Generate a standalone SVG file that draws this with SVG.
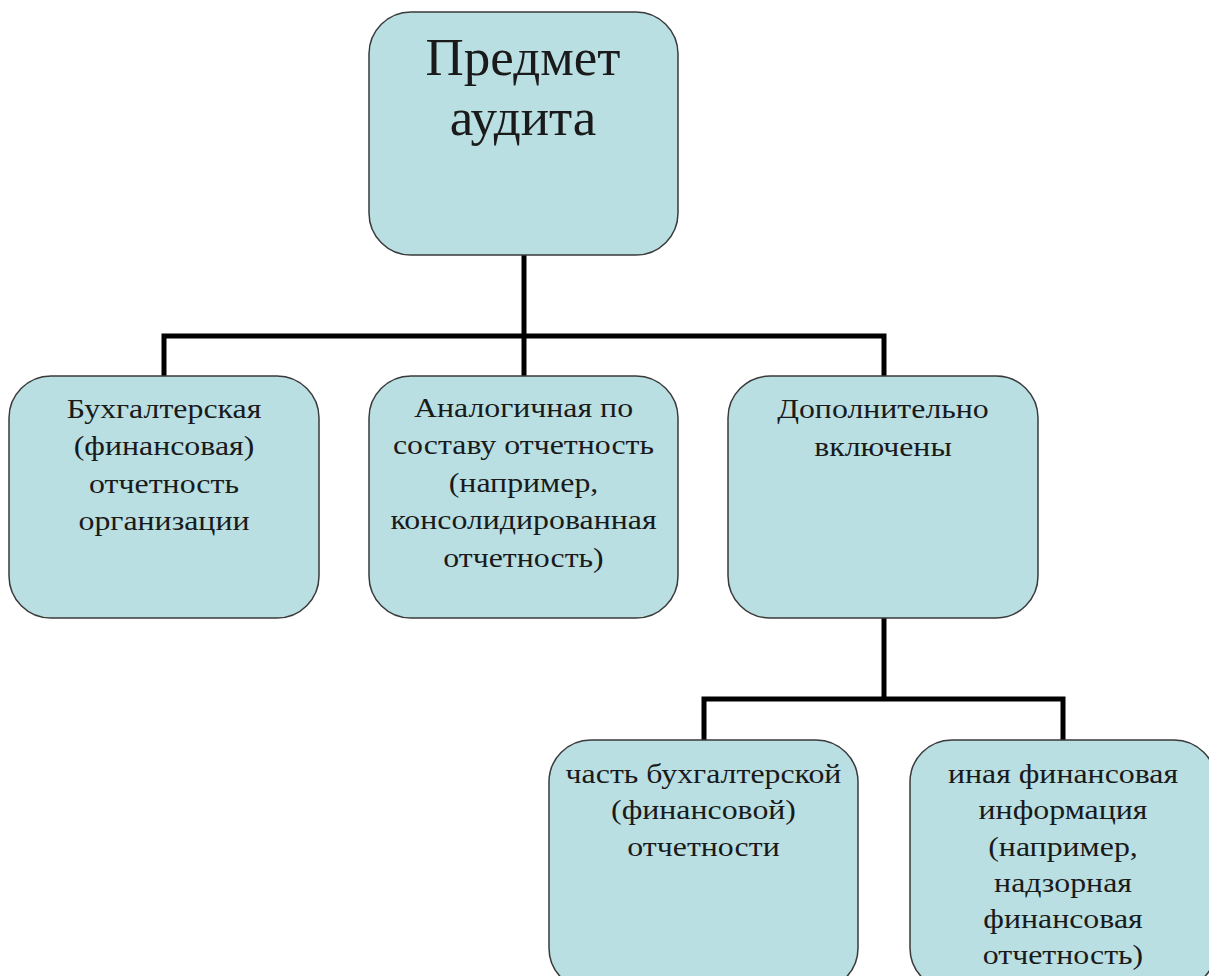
<svg xmlns="http://www.w3.org/2000/svg" width="1209" height="976" viewBox="0 0 1209 976">
<style>
.box{fill:#b9dfe3;stroke:#3a3a3a;stroke-width:1.5}
.t{font-family:"Liberation Serif","Times New Roman",serif;fill:#1a1a1a;text-anchor:middle;font-size:27px}
.big{font-size:53px}
.c{fill:none;stroke:#000;stroke-width:5}
</style>
<rect width="1209" height="976" fill="#fff"/>
<g id="connectors">
<path class="c" d="M524 254V376M164 378V336H884V378"/>
<path class="c" d="M884 618V699M704 742V699H1063V742"/>
</g>
<g id="n-root">
<rect class="box" x="369" y="12" width="309" height="243" rx="42"/>
<text class="t big" x="523" y="75">Предмет</text>
<text class="t big" x="523" y="135">аудита</text>
</g>
<g id="n-1">
<rect class="box" x="9" y="376" width="310" height="242" rx="42"/>
<g transform="translate(164,0) scale(1.18,1)">
<text class="t" x="0" y="418">Бухгалтерская</text>
<text class="t" x="0" y="455.5">(финансовая)</text>
<text class="t" x="0" y="493">отчетность</text>
<text class="t" x="0" y="530.5">организации</text>
</g>
</g>
<g id="n-2">
<rect class="box" x="369" y="376" width="309" height="242" rx="42"/>
<g transform="translate(523.5,0) scale(1.18,1)">
<text class="t" x="0" y="417">Аналогичная по</text>
<text class="t" x="0" y="454.5">составу отчетность</text>
<text class="t" x="0" y="492">(например,</text>
<text class="t" x="0" y="529.5">консолидированная</text>
<text class="t" x="0" y="567">отчетность)</text>
</g>
</g>
<g id="n-3">
<rect class="box" x="728" y="376" width="310" height="242" rx="42"/>
<g transform="translate(883,0) scale(1.18,1)">
<text class="t" x="0" y="418">Дополнительно</text>
<text class="t" x="0" y="456">включены</text>
</g>
</g>
<g id="n-4">
<rect class="box" x="549" y="740" width="309" height="250" rx="42"/>
<g transform="translate(703.5,0) scale(1.18,1)">
<text class="t" x="0" y="783">часть бухгалтерской</text>
<text class="t" x="0" y="819">(финансовой)</text>
<text class="t" x="0" y="856">отчетности</text>
</g>
</g>
<g id="n-5">
<rect class="box" x="910" y="740" width="306" height="250" rx="42"/>
<g transform="translate(1063,0) scale(1.18,1)">
<text class="t" x="0" y="783">иная финансовая</text>
<text class="t" x="0" y="819">информация</text>
<text class="t" x="0" y="856">(например,</text>
<text class="t" x="0" y="892">надзорная</text>
<text class="t" x="0" y="928">финансовая</text>
<text class="t" x="0" y="964">отчетность)</text>
</g>
</g>
</svg>
